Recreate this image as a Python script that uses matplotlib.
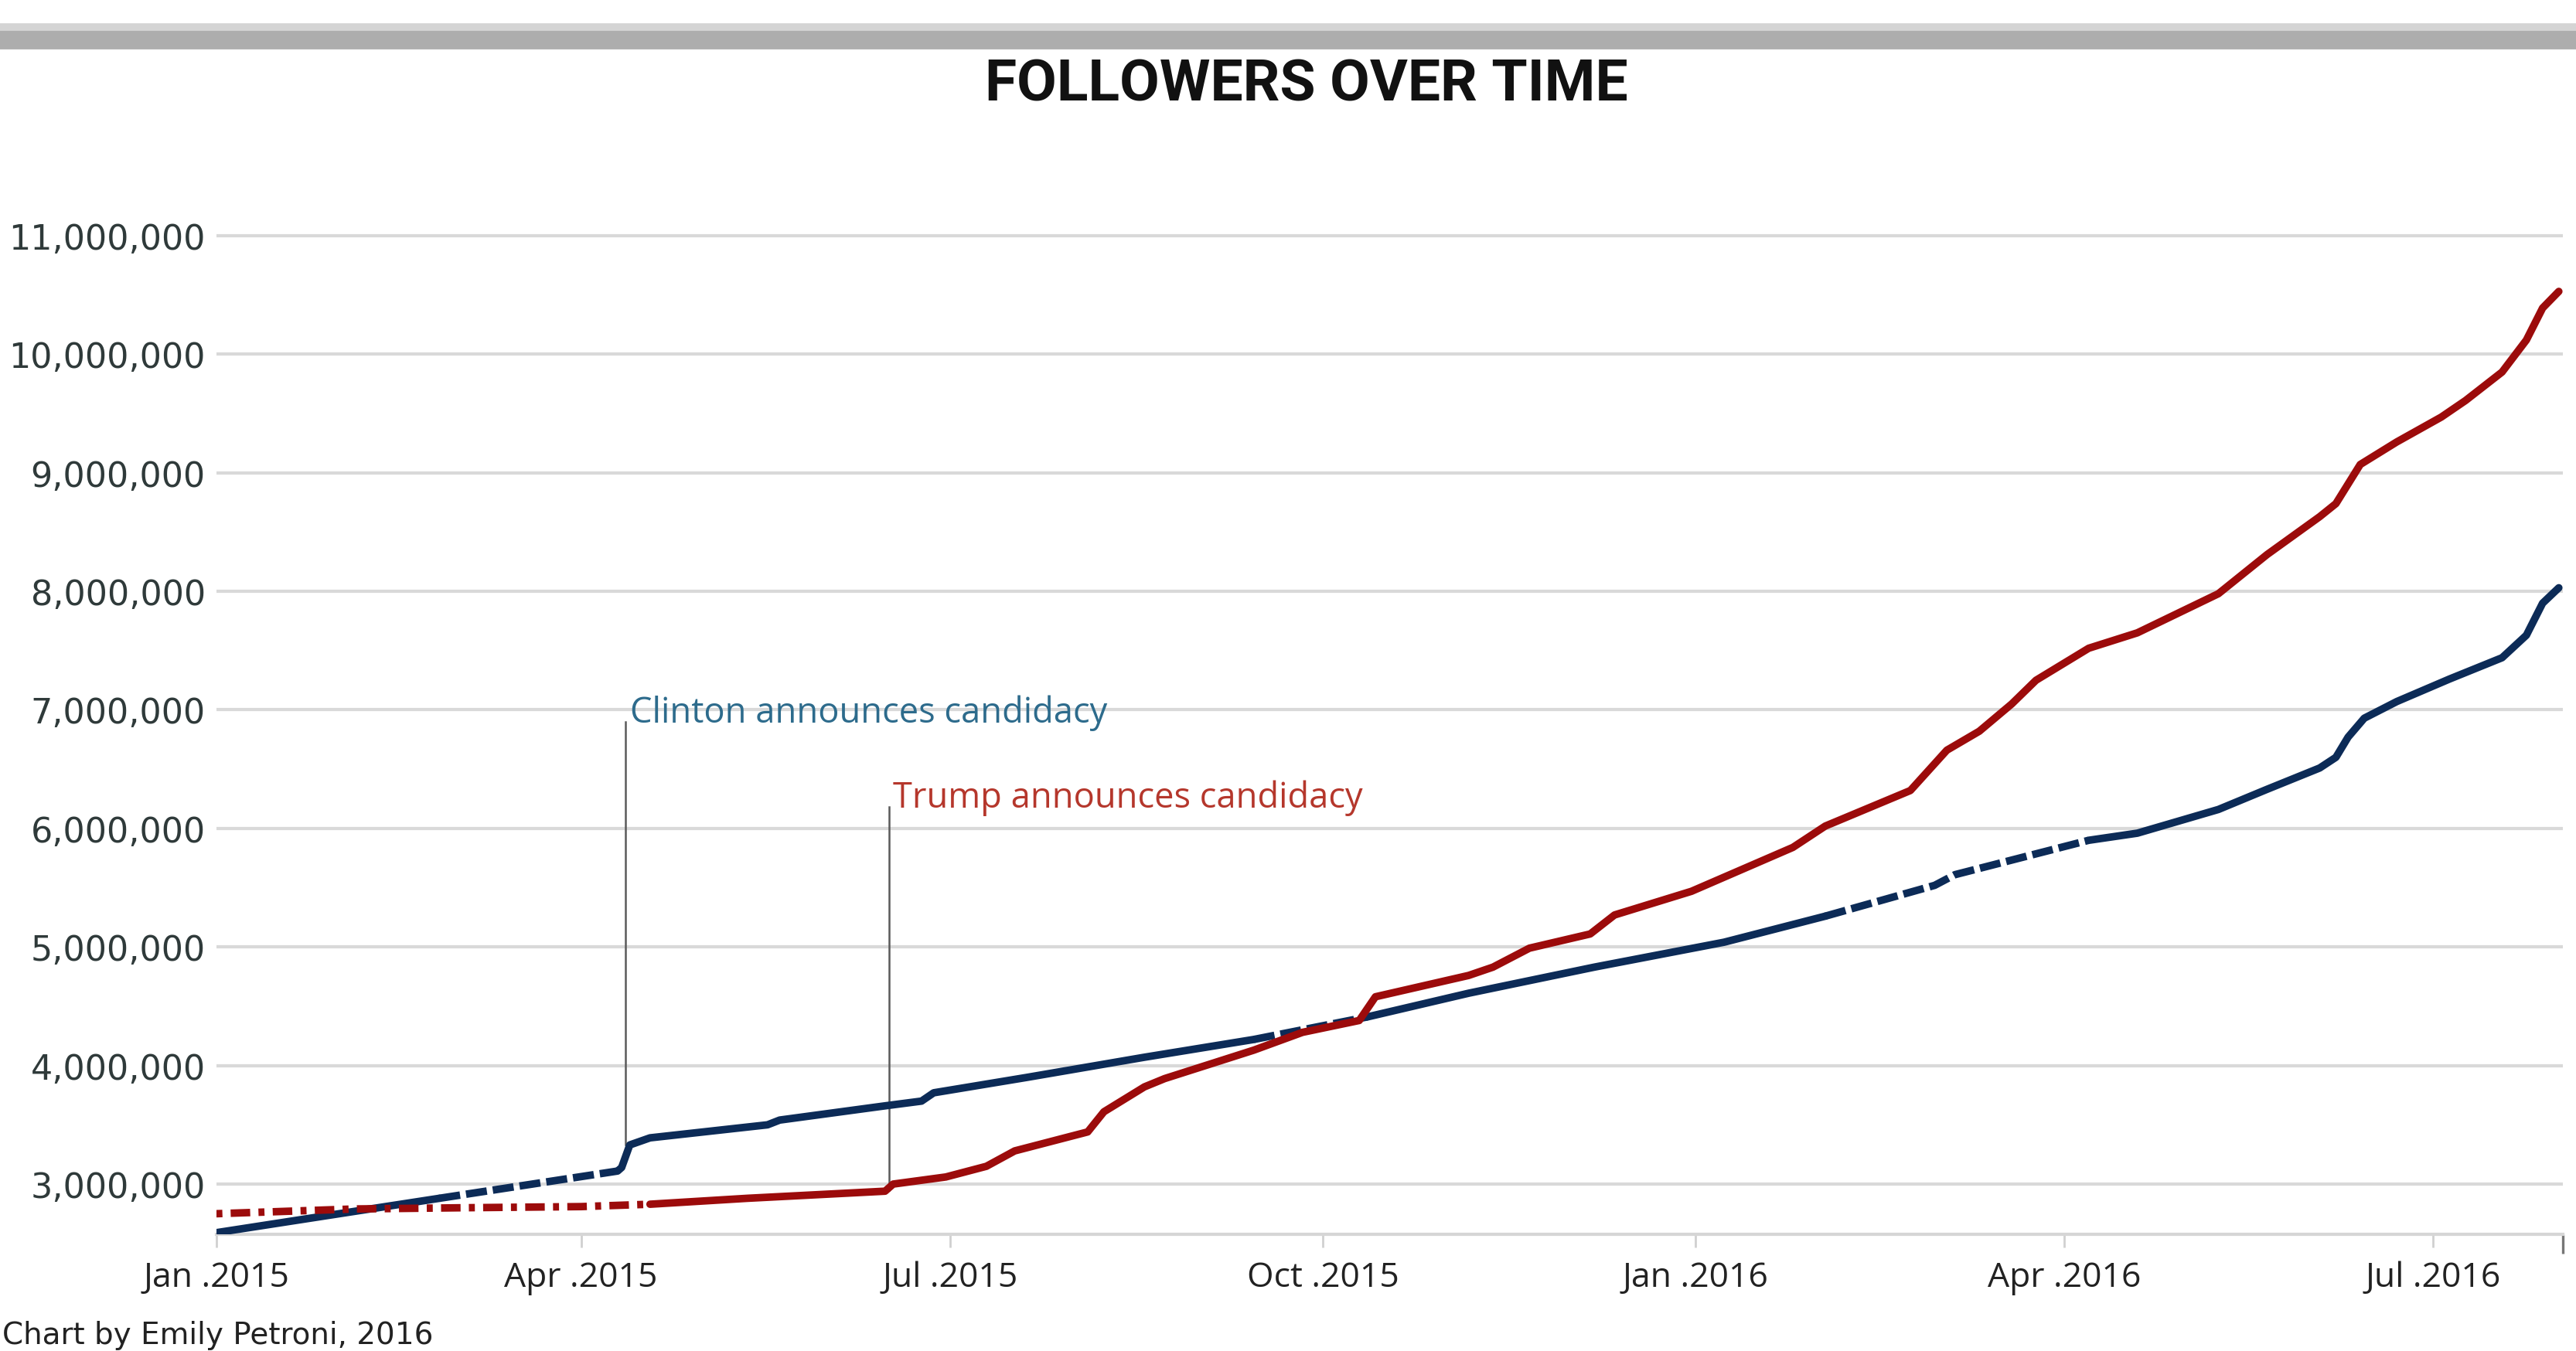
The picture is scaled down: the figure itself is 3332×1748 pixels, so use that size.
import numpy as np
import pandas as pd
import matplotlib
matplotlib.use("Agg")
import matplotlib.pyplot as plt
from matplotlib.patches import Rectangle
from matplotlib.ticker import FuncFormatter

# Twitter followers, sampled along each curve
clinton_dates = ["2015-01-01", "2015-02-06", "2015-02-25", "2015-04-10", "2015-04-11",
                 "2015-04-13", "2015-04-18", "2015-05-17", "2015-05-20", "2015-06-15",
                 "2015-06-24", "2015-06-27", "2015-07-20", "2015-08-18", "2015-09-14",
                 "2015-10-12", "2015-11-06", "2015-12-07", "2016-01-08", "2016-02-02",
                 "2016-02-29", "2016-03-05", "2016-04-07", "2016-04-19", "2016-05-09",
                 "2016-05-21", "2016-06-03", "2016-06-07", "2016-06-10", "2016-06-14",
                 "2016-06-22", "2016-07-05", "2016-07-18", "2016-07-24", "2016-07-28",
                 "2016-08-01"]
clinton_followers = [2590000, 2780000, 2880000, 3110000, 3140000,
                     3330000, 3390000, 3500000, 3540000, 3660000,
                     3700000, 3770000, 3900000, 4070000, 4220000,
                     4410000, 4610000, 4830000, 5040000, 5260000,
                     5520000, 5610000, 5900000, 5960000, 6160000,
                     6330000, 6510000, 6600000, 6770000, 6930000,
                     7070000, 7260000, 7440000, 7630000, 7900000,
                     8030000]

trump_dates = ["2015-01-01", "2015-02-04", "2015-03-02", "2015-04-01", "2015-04-18",
               "2015-05-12", "2015-06-15", "2015-06-17", "2015-06-30", "2015-07-10",
               "2015-07-17", "2015-08-04", "2015-08-08", "2015-08-18", "2015-08-23",
               "2015-09-14", "2015-09-26", "2015-10-10", "2015-10-14", "2015-11-06",
               "2015-11-12", "2015-11-21", "2015-12-06", "2015-12-12", "2015-12-31",
               "2016-01-25", "2016-02-02", "2016-02-23", "2016-03-03", "2016-03-11",
               "2016-03-19", "2016-03-25", "2016-04-07", "2016-04-19", "2016-05-09",
               "2016-05-21", "2016-06-03", "2016-06-07", "2016-06-13", "2016-06-22",
               "2016-07-03", "2016-07-09", "2016-07-18", "2016-07-24", "2016-07-28",
               "2016-08-01"]
trump_followers = [2750000, 2790000, 2800000, 2810000, 2830000,
                   2880000, 2940000, 3000000, 3060000, 3150000,
                   3280000, 3440000, 3610000, 3820000, 3890000,
                   4130000, 4280000, 4380000, 4580000, 4760000,
                   4830000, 4990000, 5110000, 5270000, 5470000,
                   5840000, 6020000, 6320000, 6660000, 6820000,
                   7050000, 7250000, 7520000, 7650000, 7980000,
                   8310000, 8630000, 8740000, 9070000, 9260000,
                   9470000, 9610000, 9850000, 10120000, 10390000,
                   10530000]

# stretches where the daily counts are patchy
clinton_sparse = [("2015-02-25", "2015-04-10"), ("2015-09-14", "2015-10-12"),
                  ("2016-02-02", "2016-04-07")]
trump_sparse = [("2015-01-01", "2015-04-18")]

events = [("2015-04-12", 3330000, 6900000, "Clinton announces candidacy", "#2d6b8c"),
          ("2015-06-16", 2950000, 6180000, "Trump announces candidacy", "#b5372c")]

tick_dates = ["2015-01-01", "2015-04-01", "2015-07-01", "2015-10-01",
              "2016-01-01", "2016-04-01", "2016-07-01"]
tick_labels = ["Jan .2015", "Apr .2015", "Jul .2015", "Oct .2015",
               "Jan .2016", "Apr .2016", "Jul .2016"]
y_ticks = [3000000, 4000000, 5000000, 6000000, 7000000, 8000000, 9000000,
           10000000, 11000000]

BLUE = "#0c2b57"
RED = "#9c0b0b"


def draw_series(ax, dates, values, sparse, color, dash, z):
    d = pd.to_datetime(pd.Series(dates))
    v = np.array(values)
    spans = [(pd.Timestamp(a), pd.Timestamp(b)) for a, b in sparse]
    edges = sorted({d.iloc[0], d.iloc[-1]} | {t for s in spans for t in s})
    for a, b in zip(edges[:-1], edges[1:]):
        m = ((d >= a) & (d <= b)).values
        line, = ax.plot(d[m], v[m], color=color, lw=3.5, zorder=z,
                        solid_capstyle="round", dash_capstyle="butt",
                        solid_joinstyle="round")
        if any(s <= a and b <= e for s, e in spans):
            line.set_dashes(dash)


fig = plt.figure(figsize=(16.66, 8.745), dpi=200)
ax = fig.add_axes([0.0840, 0.0863, 0.9109, 0.7563])

# grey band across the top
fig.patches.append(Rectangle((0, 0.964), 1, 0.0135, transform=fig.transFigure,
                             color="#adadad", zorder=0))
fig.patches.append(Rectangle((0, 0.9775), 1, 0.004, transform=fig.transFigure,
                             color="#d4d4d4", zorder=0))

fig.text(0.507, 0.937, "FOLLOWERS OVER TIME", ha="center", va="center",
         fontsize=27, fontweight="bold", family="Roboto", color="#111111")

draw_series(ax, clinton_dates, clinton_followers, clinton_sparse, BLUE, (2.8, 0.8), 3)
draw_series(ax, trump_dates, trump_followers, trump_sparse, RED, (0.8, 1.1, 2.6, 1.1), 4)

for day, y0, y1, label, col in events:
    t = pd.Timestamp(day)
    ax.plot([t, t], [y0, y1], color="#5a5a5a", lw=0.9, zorder=2)
    ax.text(t + pd.Timedelta(days=1), y1, label, ha="left", va="baseline",
            fontsize=16.3, family="Open Sans", color=col, zorder=5)

ax.set_xlim(pd.Timestamp("2015-01-01"), pd.Timestamp("2016-08-02"))
ax.set_ylim(2576000, 11200000)

ax.set_yticks(y_ticks)
ax.yaxis.set_major_formatter(FuncFormatter(lambda v, p: f"{v:,.0f}"))
ax.set_xticks(pd.to_datetime(tick_dates))
ax.set_xticklabels(tick_labels)
ax.set_xticks([pd.Timestamp("2016-08-02")], minor=True)

ax.grid(axis="y", color="#d9d9d9", lw=1.5, zorder=1)
ax.set_axisbelow(True)
for s in ["top", "right", "left"]:
    ax.spines[s].set_visible(False)
ax.spines["bottom"].set_color("#d6d6d6")
ax.spines["bottom"].set_linewidth(1.5)

ax.tick_params(axis="y", length=0, pad=5, labelsize=16, labelcolor="#2f3a3a")
ax.tick_params(axis="x", which="major", length=6, width=1, color="#d0d0d0",
               pad=6, labelsize=16, labelcolor="#222222")
ax.tick_params(axis="x", which="minor", length=9, width=1.2, color="#777777")
for lbl in ax.get_xticklabels():
    lbl.set_family("Open Sans")

fig.text(0.001, 0.001, "Chart by Emily Petroni, 2016", ha="left", va="bottom",
         fontsize=14, color="#222222")

fig.savefig("out.png", dpi=200)
